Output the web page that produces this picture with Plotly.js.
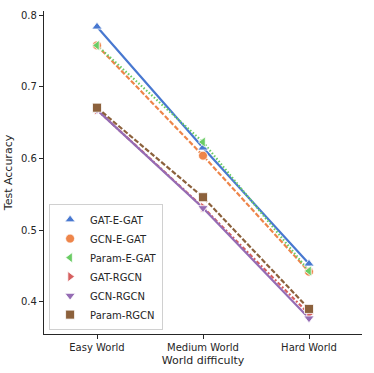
<!DOCTYPE html>
<html>
<head>
<meta charset="utf-8">
<script src="https://cdn.plot.ly/plotly-3.0.1.min.js"></script>
<style>
  html, body { margin: 0; padding: 0; background: #fff; }
  #plot { width: 374px; height: 373px; }
</style>
</head>
<body>
<div id="plot"></div>
<script>
var worlds = ['Easy World', 'Medium World', 'Hard World'];

var modelNames = ['GAT-E-GAT', 'GCN-E-GAT', 'Param-E-GAT', 'GAT-RGCN', 'GCN-RGCN', 'Param-RGCN'];

var gatEGat   = [0.784, 0.615, 0.453];
var gcnEGat   = [0.758, 0.604, 0.442];
var paramEGat = [0.758, 0.623, 0.443];
var gatRgcn   = [0.668, 0.532, 0.383];
var gcnRgcn   = [0.668, 0.531, 0.377];
var paramRgcn = [0.671, 0.546, 0.390];

var accuracies = [gatEGat, gcnEGat, paramEGat, gatRgcn, gcnRgcn, paramRgcn];

// seaborn "muted" palette
var colors  = ['#4878d0', '#ee854a', '#6acc64', '#d65f5f', '#956cb4', '#8c613c'];
var dashes  = ['solid', '5px,2px', '1.5px,2px', '4px,2px,2px,2px', 'solid', '5px,2px'];
var symbols = ['triangle-up', 'circle', 'triangle-left', 'triangle-right', 'triangle-down', 'square'];

var data = [];
// lines first (no legend entry), then markers on top with legend
for (var i = 0; i < modelNames.length; i++) {
  data.push({
    x: worlds,
    y: accuracies[i],
    type: 'scatter',
    mode: 'lines',
    line: { color: colors[i], width: 2.2, dash: dashes[i] },
    legendgroup: modelNames[i],
    showlegend: false,
    hoverinfo: 'skip'
  });
}
for (var j = 0; j < modelNames.length; j++) {
  data.push({
    x: worlds,
    y: accuracies[j],
    type: 'scatter',
    mode: 'markers',
    name: modelNames[j],
    legendgroup: modelNames[j],
    marker: {
      color: colors[j],
      symbol: symbols[j],
      size: 9,
      line: { color: '#ffffff', width: 0.8 }
    }
  });
}

var axisFont = { family: 'DejaVu Sans', size: 10, color: '#262626' };

var layout = {
  width: 374,
  height: 373,
  margin: { l: 44, r: 12, t: 11, b: 39 },
  paper_bgcolor: '#ffffff',
  plot_bgcolor: '#ffffff',
  font: axisFont,
  showlegend: true,
  xaxis: {
    type: 'category',
    range: [-0.5, 2.5],
    showline: true,
    linecolor: '#262626',
    linewidth: 1.2,
    showgrid: false,
    zeroline: false,
    ticks: 'outside',
    ticklen: 4,
    tickwidth: 1,
    tickcolor: '#262626',
    tickfont: axisFont,
    title: { text: 'World difficulty', font: { family: 'DejaVu Sans', size: 11, color: '#262626' }, standoff: 4 }
  },
  yaxis: {
    range: [0.355, 0.806],
    tick0: 0,
    dtick: 0.1,
    tickformat: '.1f',
    showline: true,
    linecolor: '#262626',
    linewidth: 1.2,
    showgrid: false,
    zeroline: false,
    ticks: 'outside',
    ticklen: 4,
    tickwidth: 1,
    tickcolor: '#262626',
    tickfont: axisFont,
    title: { text: 'Test Accuracy', font: { family: 'DejaVu Sans', size: 11, color: '#262626' }, standoff: 6 }
  },
  legend: {
    x: 0.016,
    y: 0.012,
    xanchor: 'left',
    yanchor: 'bottom',
    bgcolor: 'rgba(255,255,255,0.85)',
    bordercolor: '#d0d0d0',
    borderwidth: 1,
    font: { family: 'DejaVu Sans', size: 10, color: '#262626' },
    itemwidth: 30,
    tracegroupgap: 0
  }
};

Plotly.newPlot('plot', data, layout, { displayModeBar: false, staticPlot: true });
</script>
</body>
</html>
